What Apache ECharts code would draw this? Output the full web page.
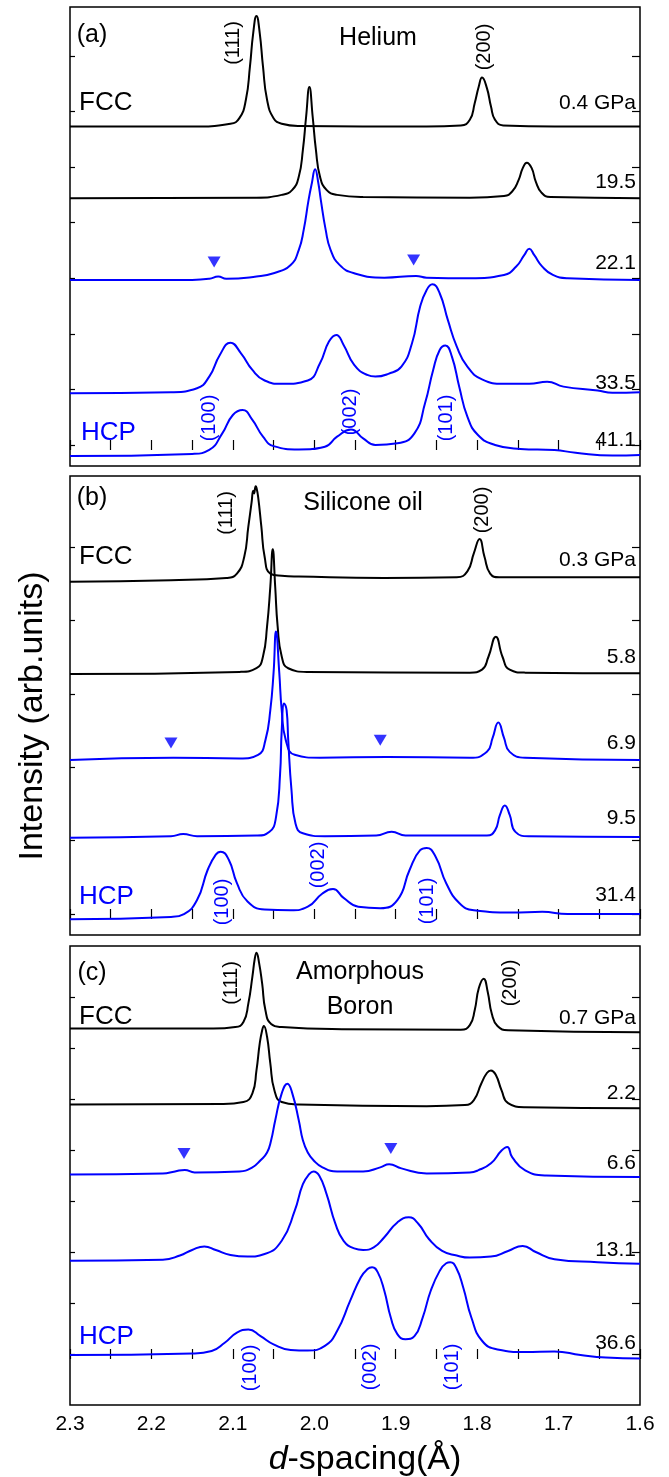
<!DOCTYPE html>
<html>
<head>
<meta charset="utf-8">
<title>d-spacing patterns</title>
<script src="https://cdn.jsdelivr.net/npm/echarts@6/dist/echarts.min.js"></script>
<style>
html, body { margin: 0; padding: 0; background: #fff; }
#chart { width: 669px; height: 1477px; }
</style>
</head>
<body>
<div id="chart"></div>
<script>
// x axis: d-spacing (Å), drawn from 2.3 down to 1.6
const dLabels = [2.3, 2.2, 2.1, 2.0, 1.9, 1.8, 1.7, 1.6]

// ---- (a) Helium : [d, intensity above own baseline]
const he04 = [[2.300,0],[2.150,0],[2.103,0.05],[2.092,0.15],[2.084,0.48],[2.079,1.08],[2.075,1.68],[2.071,1.99],[2.067,1.68],[2.063,1.08],[2.058,0.48],[2.050,0.15],[2.040,0.05],[2.019,0.01],[1.862,0],[1.820,0.02],[1.809,0.12],[1.803,0.42],[1.798,0.72],[1.794,0.88],[1.788,0.69],[1.783,0.36],[1.778,0.12],[1.768,0.02],[1.705,0],[1.600,0]]
const he195 = [[2.300,0],[2.071,0.01],[2.040,0.06],[2.027,0.15],[2.019,0.39],[2.014,0.87],[2.010,1.47],[2.006,2.00],[2.002,1.47],[1.998,0.87],[1.993,0.39],[1.985,0.15],[1.972,0.06],[1.940,0.02],[1.809,0.01],[1.767,0.04],[1.757,0.12],[1.749,0.33],[1.744,0.54],[1.739,0.64],[1.733,0.54],[1.728,0.30],[1.721,0.10],[1.710,0.02],[1.600,0]]
const he221 = [[2.300,0],[2.150,0],[2.129,0.02],[2.118,0.06],[2.108,0.02],[2.071,0.06],[2.050,0.12],[2.029,0.27],[2.019,0.54],[2.013,0.90],[2.007,1.44],[2.003,1.74],[1.999,1.99],[1.995,1.74],[1.992,1.44],[1.986,0.90],[1.980,0.54],[1.969,0.27],[1.951,0.12],[1.914,0.04],[1.875,0.07],[1.862,0.04],[1.809,0.03],[1.767,0.09],[1.752,0.24],[1.742,0.45],[1.736,0.56],[1.730,0.45],[1.720,0.24],[1.707,0.09],[1.689,0.03],[1.600,0]]
const he335 = [[2.300,0],[2.176,0.02],[2.144,0.09],[2.129,0.30],[2.116,0.69],[2.103,0.91],[2.090,0.72],[2.076,0.42],[2.061,0.23],[2.040,0.17],[2.008,0.23],[1.993,0.54],[1.982,0.93],[1.973,1.05],[1.964,0.87],[1.951,0.51],[1.935,0.33],[1.925,0.30],[1.909,0.35],[1.893,0.48],[1.880,0.90],[1.870,1.56],[1.862,1.86],[1.855,1.96],[1.846,1.80],[1.836,1.32],[1.825,0.84],[1.812,0.48],[1.794,0.25],[1.767,0.17],[1.736,0.17],[1.714,0.21],[1.694,0.12],[1.652,0.05],[1.634,0.01],[1.600,0.02]]
const he411 = [[2.300,0],[2.150,0.04],[2.129,0.11],[2.113,0.41],[2.100,0.74],[2.088,0.83],[2.076,0.65],[2.063,0.35],[2.050,0.18],[2.019,0.12],[1.987,0.17],[1.972,0.35],[1.955,0.48],[1.940,0.32],[1.925,0.20],[1.898,0.23],[1.877,0.41],[1.864,0.95],[1.854,1.55],[1.846,1.91],[1.839,1.99],[1.831,1.79],[1.822,1.25],[1.812,0.71],[1.799,0.38],[1.778,0.20],[1.747,0.13],[1.705,0.11],[1.679,0.06],[1.634,0.01],[1.600,0.02]]
const heliumOffsets = [5.73, 4.44, 2.97, 0.93, -0.20]
const heliumPressures = ['0.4 GPa', '19.5', '22.1', '33.5', '41.1']
const heliumMarks = [[2.123, 3.29], [1.878, 3.33]]

// ---- (b) Silicone oil
const si03 = [[2.300,0],[2.176,0.02],[2.108,0.05],[2.095,0.11],[2.086,0.34],[2.081,0.75],[2.077,1.08],[2.075,1.24],[2.074,1.20],[2.072,1.30],[2.071,1.28],[2.069,1.16],[2.065,0.75],[2.061,0.34],[2.054,0.11],[2.040,0.08],[2.019,0.07],[1.914,0.05],[1.825,0.06],[1.812,0.14],[1.804,0.39],[1.797,0.58],[1.791,0.34],[1.784,0.11],[1.773,0.06],[1.705,0.06],[1.600,0.06]]
const si58 = [[2.300,-0.01],[2.092,0.02],[2.071,0.07],[2.063,0.23],[2.058,0.64],[2.054,1.18],[2.051,1.69],[2.048,1.18],[2.045,0.64],[2.040,0.23],[2.032,0.07],[2.008,0.02],[1.809,0.01],[1.794,0.05],[1.786,0.23],[1.777,0.50],[1.769,0.23],[1.760,0.05],[1.741,0.01],[1.600,0]]
const si69 = [[2.300,0],[2.173,0.03],[2.092,0.02],[2.069,0.07],[2.060,0.27],[2.054,0.68],[2.050,1.19],[2.047,1.75],[2.043,1.19],[2.040,0.68],[2.035,0.27],[2.024,0.07],[1.993,0.03],[1.911,0.04],[1.809,0.03],[1.788,0.11],[1.781,0.30],[1.774,0.51],[1.767,0.30],[1.760,0.11],[1.741,0.03],[1.600,0]]
const si95 = [[2.300,-0.01],[2.176,0.01],[2.161,0.04],[2.144,0.01],[2.071,0.02],[2.055,0.07],[2.047,0.27],[2.042,0.86],[2.040,1.45],[2.037,1.82],[2.034,1.73],[2.032,1.32],[2.028,0.64],[2.023,0.18],[2.014,0.05],[1.987,0.01],[1.924,0.02],[1.905,0.07],[1.888,0.02],[1.788,0.02],[1.778,0.09],[1.772,0.30],[1.766,0.43],[1.760,0.30],[1.753,0.07],[1.736,0.01],[1.600,0]]
const si314 = [[2.300,0],[2.176,0.03],[2.160,0.07],[2.144,0.26],[2.131,0.67],[2.121,0.88],[2.115,0.92],[2.105,0.81],[2.095,0.49],[2.082,0.24],[2.061,0.13],[2.029,0.12],[2.008,0.17],[1.990,0.35],[1.977,0.41],[1.964,0.29],[1.946,0.17],[1.919,0.15],[1.898,0.26],[1.883,0.67],[1.870,0.94],[1.862,0.97],[1.851,0.85],[1.838,0.49],[1.822,0.22],[1.804,0.12],[1.757,0.09],[1.720,0.10],[1.689,0.07],[1.600,0.07]]
const siliconeOffsets = [4.53, 3.28, 2.10, 1.05, -0.07]
const siliconePressures = ['0.3 GPa', '5.8', '6.9', '9.5', '31.4']
const siliconeMarks = [[2.176, 2.33], [1.919, 2.37]]

// ---- (c) Amorphous boron
const bo07 = [[2.300,0],[2.124,0],[2.097,0.03],[2.087,0.13],[2.081,0.49],[2.076,1.02],[2.073,1.38],[2.071,1.49],[2.068,1.31],[2.064,0.88],[2.060,0.36],[2.053,0.09],[2.040,0.03],[1.966,-0.01],[1.820,-0.02],[1.809,0.07],[1.803,0.36],[1.798,0.79],[1.792,0.98],[1.787,0.72],[1.782,0.29],[1.775,0.05],[1.762,-0.03],[1.600,-0.07]]
const bo22 = [[2.300,0],[2.113,0.01],[2.087,0.05],[2.076,0.22],[2.071,0.67],[2.067,1.20],[2.064,1.46],[2.062,1.54],[2.058,1.33],[2.054,0.81],[2.049,0.28],[2.040,0.05],[2.019,0],[1.862,-0.03],[1.815,-0.01],[1.804,0.09],[1.795,0.41],[1.788,0.62],[1.783,0.67],[1.777,0.58],[1.770,0.28],[1.762,0.03],[1.741,-0.05],[1.600,-0.07]]
const bo66 = [[2.300,0],[2.186,0.02],[2.171,0.06],[2.159,0.09],[2.147,0.04],[2.092,0.06],[2.076,0.14],[2.066,0.28],[2.058,0.43],[2.053,0.67],[2.048,1.06],[2.040,1.59],[2.033,1.78],[2.027,1.59],[2.019,1.06],[2.014,0.67],[2.008,0.43],[2.001,0.28],[1.990,0.14],[1.972,0.06],[1.940,0.06],[1.919,0.14],[1.908,0.20],[1.893,0.12],[1.862,0.02],[1.809,0.04],[1.799,0.08],[1.783,0.22],[1.770,0.47],[1.763,0.54],[1.757,0.34],[1.741,0.08],[1.715,-0.02],[1.600,-0.05]]
const bo131 = [[2.300,-0.01],[2.186,0.01],[2.165,0.09],[2.150,0.20],[2.135,0.27],[2.121,0.20],[2.103,0.10],[2.082,0.07],[2.061,0.12],[2.040,0.38],[2.024,0.97],[2.014,1.49],[2.006,1.69],[2.001,1.74],[1.994,1.66],[1.985,1.30],[1.974,0.71],[1.964,0.38],[1.951,0.23],[1.940,0.20],[1.927,0.25],[1.914,0.45],[1.898,0.74],[1.884,0.84],[1.872,0.71],[1.859,0.41],[1.843,0.18],[1.825,0.09],[1.809,0.05],[1.783,0.07],[1.762,0.18],[1.744,0.28],[1.728,0.16],[1.705,0.02],[1.652,-0.04],[1.600,-0.07]]
const bo366 = [[2.300,0],[2.150,0.03],[2.126,0.08],[2.110,0.24],[2.095,0.44],[2.081,0.50],[2.066,0.37],[2.050,0.21],[2.029,0.10],[2.008,0.09],[1.987,0.18],[1.972,0.47],[1.956,1.06],[1.943,1.52],[1.935,1.68],[1.929,1.72],[1.922,1.62],[1.914,1.26],[1.906,0.73],[1.898,0.41],[1.888,0.31],[1.877,0.37],[1.867,0.73],[1.857,1.26],[1.846,1.65],[1.838,1.80],[1.833,1.82],[1.826,1.72],[1.817,1.32],[1.807,0.73],[1.794,0.28],[1.775,0.11],[1.741,0.06],[1.705,0.07],[1.673,0],[1.642,-0.05],[1.600,-0.07]]
const boronOffsets = [6.38, 4.89, 3.52, 1.84, -0.02]
const boronPressures = ['0.7 GPa', '2.2', '6.6', '13.1', '36.6']
const boronMarks = [[2.160, 3.93], [1.906, 4.03]]

const BLUE = '#0000ff'
const FONT = 'Arial, "Liberation Sans", sans-serif'

// panel layout (pixels)
const panels = [
  { top: 7, curves: [he04, he195, he221, he335, he411], offsets: heliumOffsets, marks: heliumMarks, yMin: -0.378, yMax: 7.88, yTicks: [0, 1, 2, 3, 4, 5, 6, 7] },
  { top: 476, curves: [si03, si58, si69, si95, si314], offsets: siliconeOffsets, marks: siliconeMarks, yMin: -0.286, yMax: 5.97, yTicks: [0, 1, 2, 3, 4, 5] },
  { top: 946, curves: [bo07, bo22, bo66, bo131, bo366], offsets: boronOffsets, marks: boronMarks, yMin: -1, yMax: 8, yTicks: [0, 1, 2, 3, 4, 5, 6, 7] }
]
const LEFT = 70
const WIDTH = 570
const HEIGHT = 459

let grid = []
let xAxis = []
let yAxis = []
let series = []

panels.forEach((p, i) => {
  grid.push({ left: LEFT, top: p.top, width: WIDTH, height: HEIGHT, show: true, borderColor: '#000', borderWidth: 1.5, backgroundColor: 'transparent' })
  // bottom + top x axes (ticks inward)
  ;['bottom', 'top'].forEach(pos => {
    xAxis.push({
      gridIndex: i,
      type: 'value',
      position: pos,
      min: 1.6,
      max: 2.3,
      interval: 0.05,
      inverse: true,
      axisLine: { show: false },
      axisTick: { show: true, inside: true, length: 5, lineStyle: { color: '#000', width: 1.2 } },
      splitLine: { show: false },
      axisLabel: {
        show: pos === 'bottom' && i === 2,
        customValues: dLabels,
        formatter: v => v.toFixed(1),
        color: '#000',
        fontSize: 21,
        fontFamily: FONT,
        margin: 9
      }
    })
  })
  // left + right y axes
  ;['left', 'right'].forEach(pos => {
    yAxis.push({
      gridIndex: i,
      type: 'value',
      position: pos,
      min: p.yMin,
      max: p.yMax,
      axisLine: { show: false },
      axisTick: { show: true, inside: true, length: pos === 'left' ? 5 : 8, customValues: p.yTicks, lineStyle: { color: '#000', width: 1.2 } },
      axisLabel: { show: false },
      splitLine: { show: false }
    })
  })
  p.curves.forEach((c, k) => {
    series.push({
      type: 'line',
      xAxisIndex: 2 * i,
      yAxisIndex: 2 * i,
      data: c.map(pt => [pt[0], pt[1] + p.offsets[k]]),
      showSymbol: false,
      smooth: 0.5,
      silent: true,
      lineStyle: { width: 2, color: k < 2 ? '#000' : BLUE }
    })
  })
  series.push({
    type: 'scatter',
    xAxisIndex: 2 * i,
    yAxisIndex: 2 * i,
    data: p.marks,
    symbol: 'triangle',
    symbolRotate: 180,
    symbolSize: [13, 11],
    itemStyle: { color: BLUE },
    silent: true
  })
})

// text annotations
function txt (x, y, s, o) {
  o = o || {}
  return {
    type: 'text',
    x: x,
    y: y,
    rotation: o.rot ? Math.PI / 2 : 0,
    silent: true,
    style: {
      text: s,
      fill: o.color || '#000',
      fontSize: o.size || 20,
      fontFamily: FONT,
      align: o.align || 'center',
      verticalAlign: 'middle'
    }
  }
}

const pressureY = [[103, 182, 263, 383, 440], [560, 657, 743, 818, 895], [1018, 1093, 1163, 1250, 1343]]
const pressureLists = [heliumPressures, siliconePressures, boronPressures]

let graphic = [
  txt(92, 35, '(a)', { size: 25 }),
  txt(378, 38, 'Helium', { size: 25 }),
  txt(92, 498, '(b)', { size: 25 }),
  txt(363, 503, 'Silicone oil', { size: 25 }),
  txt(92, 973, '(c)', { size: 25 }),
  {
    type: 'text', x: 360, y: 990, silent: true,
    style: { text: 'Amorphous\nBoron', fill: '#000', fontSize: 25, fontFamily: FONT, align: 'center', verticalAlign: 'middle', lineHeight: 35 }
  },
  // FCC / HCP labels
  txt(79, 103, 'FCC', { size: 26, align: 'left' }),
  txt(81, 433, 'HCP', { size: 26, align: 'left', color: BLUE }),
  txt(79, 557, 'FCC', { size: 26, align: 'left' }),
  txt(79, 897, 'HCP', { size: 26, align: 'left', color: BLUE }),
  txt(79, 1017, 'FCC', { size: 26, align: 'left' }),
  txt(79, 1337, 'HCP', { size: 26, align: 'left', color: BLUE }),
  // Miller indices
  txt(233, 43, '(111)', { rot: true }),
  txt(484, 47, '(200)', { rot: true }),
  txt(209, 418, '(100)', { rot: true, color: BLUE }),
  txt(350, 412, '(002)', { rot: true, color: BLUE }),
  txt(446, 418, '(101)', { rot: true, color: BLUE }),
  txt(226, 513, '(111)', { rot: true }),
  txt(482, 510, '(200)', { rot: true }),
  txt(222, 902, '(100)', { rot: true, color: BLUE }),
  txt(318, 865, '(002)', { rot: true, color: BLUE }),
  txt(427, 901, '(101)', { rot: true, color: BLUE }),
  txt(231, 983, '(111)', { rot: true }),
  txt(510, 983, '(200)', { rot: true }),
  txt(250, 1368, '(100)', { rot: true, color: BLUE }),
  txt(370, 1367, '(002)', { rot: true, color: BLUE }),
  txt(452, 1367, '(101)', { rot: true, color: BLUE }),
  // axis titles
  txt(33, 716, 'Intensity (arb.units)', { rot: true, size: 34 }),
  {
    type: 'text', x: 365, y: 1460, silent: true,
    style: {
      text: '{i|d}-spacing(Å)',
      fill: '#000', fontSize: 34, fontFamily: FONT, align: 'center', verticalAlign: 'middle',
      rich: { i: { fontStyle: 'italic', fontSize: 34, fontFamily: FONT, fill: '#000' } }
    }
  }
]
pressureLists.forEach((list, i) => {
  list.forEach((s, k) => {
    graphic.push(txt(636, pressureY[i][k], s, { size: 21, align: 'right' }))
  })
})

let chart = echarts.init(document.getElementById('chart'))
chart.setOption({
  animation: false,
  backgroundColor: '#fff',
  textStyle: { fontFamily: FONT },
  grid: grid,
  xAxis: xAxis,
  yAxis: yAxis,
  series: series,
  graphic: graphic
})
window.addEventListener('resize', function () {
  chart.resize()
})
</script>
</body>
</html>
